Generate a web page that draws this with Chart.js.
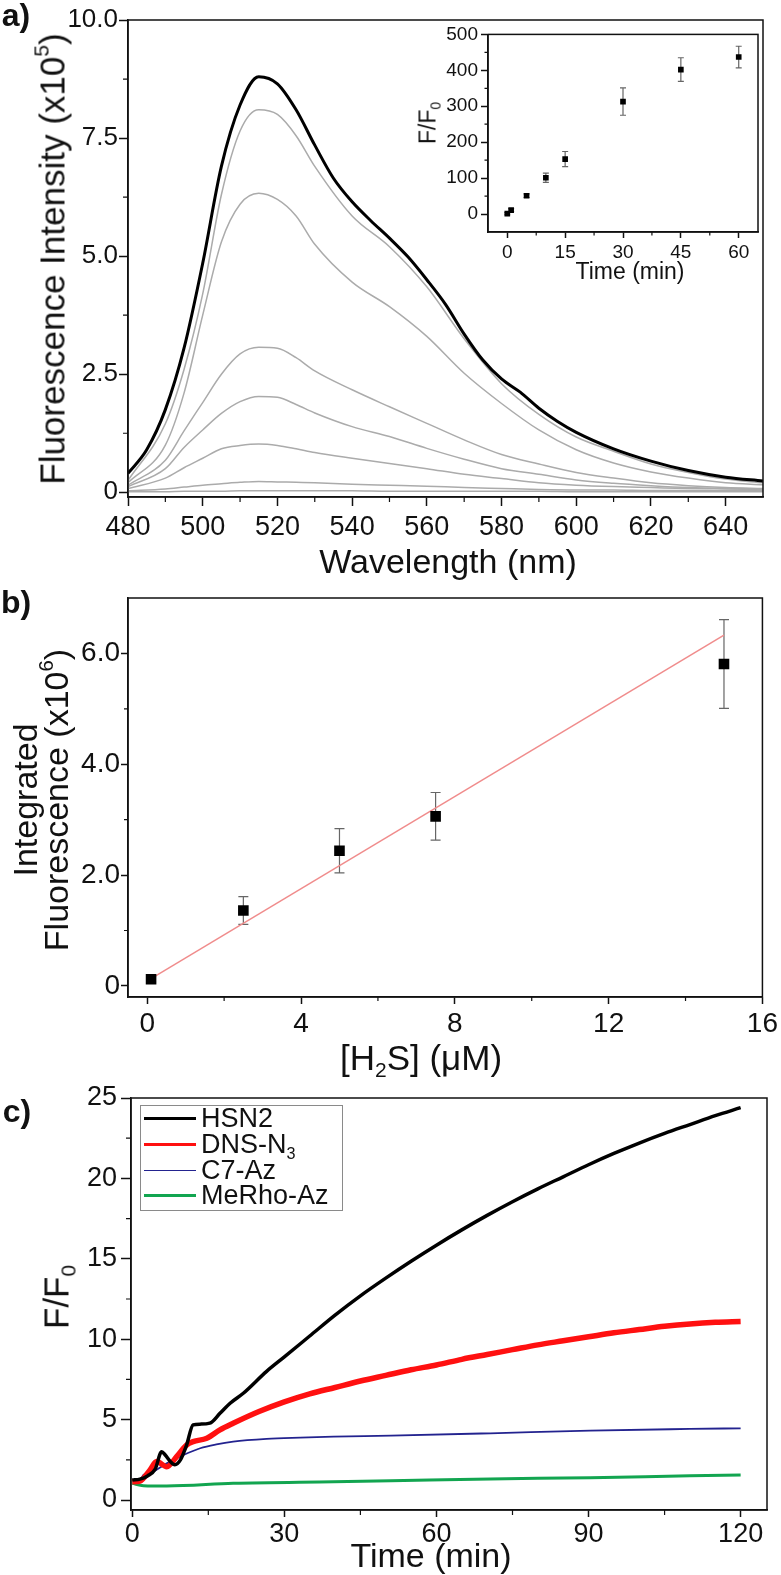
<!DOCTYPE html>
<html>
<head>
<meta charset="utf-8">
<script src="https://cdn.jsdelivr.net/npm/chart.js@4.4.1/dist/chart.umd.min.js"></script>
<style>
  body { margin: 0; background: #fff; }
  #page { position: relative; width: 781px; height: 1575px; overflow: hidden; font-family: 'Liberation Sans', Arial, sans-serif; color: #111; }
  canvas { position: absolute; }
  .t { position: absolute; white-space: nowrap; line-height: 1; transform: translate(-50%, -50%); }
  .rot { transform: translate(-50%, -50%) rotate(-90deg); }
  .t sup { font-size: 0.6em; vertical-align: 0.75em; line-height: 0; }
  .t sub, .lrow sub { font-size: 0.6em; vertical-align: -0.35em; line-height: 0; }
  .lab { font-weight: bold; font-size: 32px; }
  #legendC { position: absolute; left: 140px; top: 1105px; width: 203px; height: 106px; box-sizing: border-box;
    border: 1px solid #8a8a8a; background: #fff; padding: 0 0 0 3px; font-size: 27px; }
  .lrow { display: flex; align-items: center; height: 25.7px; white-space: nowrap; }
  .swatch { display: inline-block; width: 52px; margin-right: 5px; }
</style>
</head>
<body>
<div id="page">
  <canvas id="chartA" width="781" height="545" style="left:0;top:0;width:781px;height:545px"></canvas>
  <canvas id="chartInset" width="375" height="270" style="left:400px;top:20px;width:375px;height:270px"></canvas>
  <canvas id="chartB" width="781" height="480" style="left:0;top:560px;width:781px;height:480px"></canvas>
  <canvas id="chartC" width="781" height="505" style="left:0;top:1070px;width:781px;height:505px"></canvas>

  <div class="t lab" style="left:16px;top:15px">a)</div>
  <div class="t lab" style="left:16px;top:602px">b)</div>
  <div class="t lab" style="left:17px;top:1111px">c)</div>

  <div class="t rot" style="left:52px;top:259px;font-size:35px">Fluorescence Intensity (x10<sup>5</sup>)</div>
  <div class="t" style="left:448px;top:561px;font-size:34px">Wavelength (nm)</div>
  <div class="t rot" style="left:428px;top:123px;font-size:23px">F/F<sub>0</sub></div>
  <div class="t" style="left:630px;top:271px;font-size:23px">Time (min)</div>

  <div class="t rot" style="left:25px;top:800px;font-size:34px">Integrated</div>
  <div class="t rot" style="left:56px;top:800px;font-size:34px">Fluorescence (x10<sup>6</sup>)</div>
  <div class="t" style="left:421px;top:1057px;font-size:35px">[H<sub>2</sub>S] (μM)</div>

  <div class="t rot" style="left:56px;top:1297px;font-size:35px">F/F<sub>0</sub></div>
  <div class="t" style="left:431px;top:1555px;font-size:34px">Time (min)</div>

  <div id="legendC"></div>
</div>
<script>
const FONT = "'Liberation Sans', Arial, sans-serif";
const INK = '#111';

// ---- panel a: emission spectra (x10^5) ----
const aWave = [480, 485, 490, 495, 500, 505, 510, 515, 520, 525, 530, 535, 540, 545, 550, 555, 560, 565, 570, 575, 580, 585, 590, 595, 600, 610, 620, 630, 640, 650];
const a60min = [0.40, 0.90, 1.75, 3.05, 4.85, 6.9, 8.2, 8.8, 8.65, 8.1, 7.35, 6.65, 6.15, 5.75, 5.38, 4.98, 4.5, 3.98, 3.35, 2.8, 2.4, 2.12, 1.78, 1.5, 1.27, 0.92, 0.66, 0.46, 0.32, 0.24];
const aWaveGray = [480, 490, 495, 500, 505, 510, 515, 520, 525, 530, 540, 550, 560, 570, 580, 590, 600, 610, 620, 630, 640, 650];
const a45min = [0.25, 1.45, 2.6, 4.2, 6.3, 7.65, 8.1, 8.0, 7.55, 6.9, 5.85, 5.2, 4.35, 3.25, 2.3, 1.65, 1.17, 0.87, 0.6, 0.42, 0.28, 0.2];
const a30min = [0.2, 1.0, 2.1, 3.75, 5.3, 6.1, 6.33, 6.2, 5.85, 5.25, 4.45, 3.93, 3.3, 2.52, 1.88, 1.32, 0.9, 0.62, 0.43, 0.3, 0.2, 0.16];
const a15min = [0.15, 0.68, 1.3, 1.9, 2.5, 2.93, 3.07, 3.05, 2.85, 2.57, 2.17, 1.81, 1.46, 1.11, 0.8, 0.6, 0.42, 0.3, 0.2, 0.14, 0.1, 0.08];
const a10min = [0.12, 0.5, 0.95, 1.32, 1.67, 1.92, 2.03, 2.01, 1.86, 1.68, 1.39, 1.18, 0.93, 0.7, 0.5, 0.38, 0.26, 0.19, 0.14, 0.1, 0.08, 0.07];
const a5min = [0.08, 0.3, 0.52, 0.72, 0.92, 0.99, 1.02, 0.99, 0.92, 0.84, 0.72, 0.61, 0.5, 0.38, 0.29, 0.2, 0.15, 0.12, 0.1, 0.08, 0.07, 0.06];
const a1min = [0.03, 0.07, 0.11, 0.15, 0.18, 0.21, 0.23, 0.22, 0.21, 0.2, 0.17, 0.15, 0.13, 0.1, 0.08, 0.06, 0.05, 0.05, 0.04, 0.04, 0.03, 0.03];
const a0min = [0.01, 0.01, 0.02, 0.02, 0.02, 0.03, 0.03, 0.03, 0.03, 0.03, 0.03, 0.02, 0.02, 0.02, 0.02, 0.02, 0.01, 0.01, 0.01, 0.01, 0.01, 0.01];
const aXTicks = [480, 500, 520, 540, 560, 580, 600, 620, 640];
const aXMinor = [490, 510, 530, 550, 570, 590, 610, 630];
const aYTicks = [0, 2.5, 5, 7.5, 10];
const aYLabels = ['0', '2.5', '5.0', '7.5', '10.0'];
const aYMinor = [1.25, 3.75, 6.25, 8.75];

// ---- inset: F/F0 vs time ----
const insetTime = [0, 1, 5, 10, 15, 30, 45, 60];
const insetRatio = [1, 11, 51, 101, 153, 313, 402, 437];
const insetErr = [3, 4, 5, 13, 21, 38, 33, 30];
const insetXTicks = [0, 15, 30, 45, 60];
const insetXMinor = [7.5, 22.5, 37.5, 52.5];
const insetYTicks = [0, 100, 200, 300, 400, 500];
const insetYMinor = [50, 150, 250, 350, 450];

// ---- panel b: integrated fluorescence (x10^6) ----
const bConc = [0.1, 2.5, 5, 7.5, 15];
const bInt = [0.12, 1.36, 2.44, 3.06, 5.81];
const bErr = [0.05, 0.25, 0.4, 0.43, 0.8];
const bFitX = [0.1, 15];
const bFitY = [0.13, 6.33];
const bXTicks = [0, 4, 8, 12, 16];
const bXMinor = [2, 6, 10, 14];
const bYTicks = [0, 2, 4, 6];
const bYLabels = ['0', '2.0', '4.0', '6.0'];
const bYMinor = [1, 3, 5];

// ---- panel c: kinetics ----
const cNames = ['HSN2', 'DNS-N₃', 'C7-Az', 'MeRho-Az'];
const hsn2T = [0, 1.5, 3, 4.5, 5.8, 6.5, 7.5, 8.4, 9.5, 10.7, 12, 13.4, 15.3, 17.3, 19.3, 21.9, 26.5, 30, 35, 40, 45, 50, 55, 60, 65, 70, 75, 80, 85, 90, 95, 100, 105, 110, 115, 120];
const hsn2F = [1.24, 1.3, 1.5, 1.9, 3.0, 2.8, 2.4, 2.2, 2.5, 3.4, 4.67, 4.72, 4.78, 5.39, 6.02, 6.64, 8.0, 8.9, 10.2, 11.5, 12.7, 13.8, 14.85, 15.85, 16.8, 17.7, 18.55, 19.35, 20.1, 20.85, 21.55, 22.2, 22.8, 23.35, 23.9, 24.4];
const dnsT = [0, 1.5, 3.5, 4.8, 6.8, 8.75, 10.7, 12, 14.7, 17.3, 19.9, 25, 30, 35, 40, 45, 50, 55, 60, 65, 70, 75, 80, 85, 90, 95, 100, 105, 110, 115, 120];
const dnsF = [1.14, 1.18, 1.87, 2.39, 2.07, 2.7, 3.42, 3.63, 3.84, 4.36, 4.77, 5.5, 6.1, 6.6, 7.0, 7.4, 7.75, 8.1, 8.4, 8.75, 9.05, 9.35, 9.65, 9.9, 10.15, 10.4, 10.6, 10.8, 10.95, 11.05, 11.1];
const c7T = [0, 1.5, 2.2, 4.1, 6.8, 10.1, 13.4, 16.6, 19.9, 26.5, 33.1, 39.7, 51, 70.6, 90.3, 110, 120];
const c7F = [1.24, 1.24, 1.56, 1.76, 2.28, 2.8, 3.22, 3.46, 3.63, 3.8, 3.88, 3.94, 4.0, 4.15, 4.32, 4.42, 4.46];
const rhoT = [0, 2.2, 6.8, 19.9, 39.7, 51, 70.6, 90.3, 110, 120];
const rhoF = [1.04, 0.89, 0.87, 1.04, 1.14, 1.2, 1.31, 1.39, 1.51, 1.56];
const cXTicks = [0, 30, 60, 90, 120];
const cXMinor = [15, 45, 75, 105];
const cYTicks = [0, 5, 10, 15, 20, 25];
const cYMinor = [2.5, 7.5, 12.5, 17.5, 22.5];

const pts = (xs, ys) => xs.map((x, i) => ({ x: x, y: ys[i] }));

function linAxis(o) {
  return {
    type: 'linear', min: o.min, max: o.max,
    afterBuildTicks: s => { s.ticks = o.ticks.map(v => ({ value: v })); },
    afterFit: s => { if (o.horiz) s.height = o.fit; else s.width = o.fit; },
    grid: { drawOnChartArea: false, drawTicks: true, tickLength: o.len, tickWidth: 1.5, tickColor: INK },
    border: { display: true, color: INK, width: 1.5 },
    ticks: {
      padding: o.pad, color: INK, font: { family: FONT, size: o.size },
      maxRotation: 0, autoSkip: false,
      callback: (v, i) => (o.labels ? o.labels[i] : String(v))
    }
  };
}

// frame round the plot + small minor ticks
function frame(xMinor, yMinor, len) {
  return {
    id: 'frame',
    afterDraw(chart) {
      const { ctx, chartArea: a, scales } = chart;
      ctx.save();
      ctx.strokeStyle = INK;
      ctx.lineWidth = 1.5;
      ctx.strokeRect(a.left, a.top, a.right - a.left, a.bottom - a.top);
      ctx.lineWidth = 1.2;
      ctx.beginPath();
      xMinor.forEach(v => {
        const px = scales.x.getPixelForValue(v);
        ctx.moveTo(px, a.bottom); ctx.lineTo(px, a.bottom + len);
      });
      yMinor.forEach(v => {
        const py = scales.y.getPixelForValue(v);
        ctx.moveTo(a.left, py); ctx.lineTo(a.left - len, py);
      });
      ctx.stroke();
      ctx.restore();
    }
  };
}

const errorBars = {
  id: 'errorBars',
  beforeDatasetsDraw(chart) {
    const { ctx, scales } = chart;
    chart.data.datasets.forEach((ds, i) => {
      if (!ds.errors) return;
      const meta = chart.getDatasetMeta(i);
      ctx.save();
      ctx.strokeStyle = '#666';
      ctx.lineWidth = 1.2;
      ctx.beginPath();
      ds.data.forEach((p, j) => {
        const x = meta.data[j].x;
        const hi = scales.y.getPixelForValue(p.y + ds.errors[j]);
        const lo = scales.y.getPixelForValue(p.y - ds.errors[j]);
        ctx.moveTo(x, hi); ctx.lineTo(x, lo);
        ctx.moveTo(x - ds.cap, hi); ctx.lineTo(x + ds.cap, hi);
        ctx.moveTo(x - ds.cap, lo); ctx.lineTo(x + ds.cap, lo);
      });
      ctx.stroke();
      ctx.restore();
    });
  }
};

function baseOptions(pad, x, y) {
  return {
    responsive: false, animation: false,
    layout: { padding: pad, autoPadding: false },
    plugins: { legend: { display: false }, tooltip: { enabled: false } },
    elements: { point: { radius: 0 } },
    scales: { x: x, y: y }
  };
}

const GRAY = '#ababab';
const spec = (ys, w, c) => ({ data: pts(aWaveGray, ys), borderColor: c, borderWidth: w, cubicInterpolationMode: 'monotone' });

new Chart(document.getElementById('chartA'), {
  type: 'line',
  data: {
    datasets: [
      { data: pts(aWave, a60min), borderColor: '#000', borderWidth: 3, cubicInterpolationMode: 'monotone' },
      spec(a45min, 1.5, GRAY), spec(a30min, 1.5, GRAY), spec(a15min, 1.5, GRAY),
      spec(a10min, 1.5, GRAY), spec(a5min, 1.5, GRAY), spec(a1min, 1.5, GRAY), spec(a0min, 1.5, GRAY)
    ]
  },
  options: baseOptions({ left: 0, top: 20, right: 18, bottom: 0 },
    linAxis({ horiz: true, min: 480, max: 650, ticks: aXTicks, len: 9, pad: 5, size: 27, fit: 48 }),
    linAxis({ min: -0.1, max: 10, ticks: aYTicks, labels: aYLabels, len: 9, pad: 1, size: 26, fit: 128 })),
  plugins: [frame(aXMinor, aYMinor, 5)]
});

new Chart(document.getElementById('chartInset'), {
  type: 'scatter',
  data: {
    datasets: [{
      data: pts(insetTime, insetRatio), errors: insetErr, cap: 3,
      pointStyle: 'rect', pointRadius: 4, backgroundColor: '#000', borderColor: '#000', borderWidth: 0
    }]
  },
  options: baseOptions({ left: 0, top: 13, right: 17, bottom: 0 },
    linAxis({ horiz: true, min: -5, max: 65, ticks: insetXTicks, len: 6, pad: 3, size: 19, fit: 58 }),
    linAxis({ min: -50, max: 500, ticks: insetYTicks, len: 7, pad: 3, size: 19, fit: 88 })),
  plugins: [frame(insetXMinor, insetYMinor, 3.5), errorBars]
});

new Chart(document.getElementById('chartB'), {
  type: 'scatter',
  data: {
    datasets: [
      {
        data: pts(bConc, bInt), errors: bErr, cap: 5,
        pointStyle: 'rect', pointRadius: 7.5, backgroundColor: '#000', borderColor: '#000', borderWidth: 0
      },
      { type: 'line', data: pts(bFitX, bFitY), borderColor: '#f08c8c', borderWidth: 1.5, pointRadius: 0 }
    ]
  },
  options: baseOptions({ left: 0, top: 38, right: 17, bottom: 0 },
    linAxis({ horiz: true, min: -0.5, max: 16, ticks: bXTicks, len: 7, pad: 3, size: 28, fit: 43 }),
    linAxis({ min: -0.2, max: 7, ticks: bYTicks, labels: bYLabels, len: 7, pad: 1, size: 28, fit: 128 })),
  plugins: [frame(bXMinor, bYMinor, 4), errorBars]
});

const chartC = new Chart(document.getElementById('chartC'), {
  type: 'line',
  data: {
    datasets: [
      { label: cNames[0], data: pts(hsn2T, hsn2F), borderColor: '#000', borderWidth: 3.5, cubicInterpolationMode: 'monotone' },
      { label: cNames[1], data: pts(dnsT, dnsF), borderColor: '#ff1010', borderWidth: 5.5, cubicInterpolationMode: 'monotone' },
      { label: cNames[2], data: pts(c7T, c7F), borderColor: '#23238f', borderWidth: 1.8, cubicInterpolationMode: 'monotone' },
      { label: cNames[3], data: pts(rhoT, rhoF), borderColor: '#12a550', borderWidth: 3, cubicInterpolationMode: 'monotone' }
    ]
  },
  options: baseOptions({ left: 0, top: 28, right: 14, bottom: 0 },
    linAxis({ horiz: true, min: -0.25, max: 125.2, ticks: cXTicks, len: 7, pad: 1, size: 27, fit: 65 }),
    linAxis({ min: -0.62, max: 25, ticks: cYTicks, len: 10, pad: 4, size: 27, fit: 131 })),
  plugins: [frame(cXMinor, cYMinor, 5)]
});

// legend for panel c, built from the datasets
const legendC = document.getElementById('legendC');
chartC.data.datasets.forEach(ds => {
  const row = document.createElement('div');
  row.className = 'lrow';
  const sw = Math.min(ds.borderWidth, 3);
  row.innerHTML = '<span class="swatch" style="border-top:' + sw + 'px solid ' + ds.borderColor + '"></span><span>' +
    ds.label.replace('₃', '<sub>3</sub>') + '</span>';
  legendC.appendChild(row);
});
</script>
</body>
</html>
